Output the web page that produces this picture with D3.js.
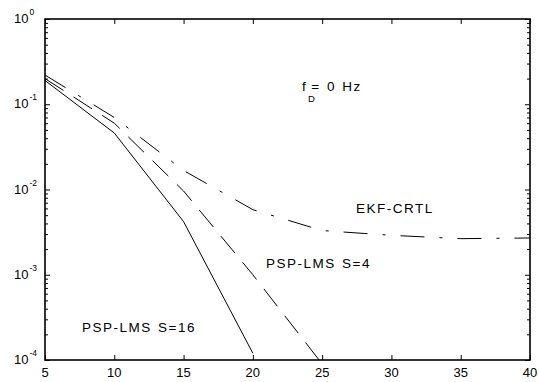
<!DOCTYPE html>
<html>
<head>
<meta charset="utf-8">
<style>
    body { margin: 0; background: #fff; }
    svg { font-family: 'Liberation Sans', Arial, sans-serif; }
    .axis .domain { display: none; }
    .axis .tick line { stroke: #000; stroke-width: 1; }
    .lbl { font-size: 12.5px; fill: #000; }
    .note { font-size: 13.5px; fill: #000; letter-spacing: 1.5px; word-spacing: 1px; }
</style>
</head>
<body>
<svg width="539" height="382"></svg>
<script src="https://d3js.org/d3.v7.min.js"></script>
<script>
// x positions (SNR, dB) and y values (BER)
let xTicks = [5, 10, 15, 20, 25, 30, 35, 40]
let yExps = [0, -1, -2, -3, -4]

let xS16 = [5, 10, 15, 20]
let berS16 = [0.19, 0.046, 0.0042, 0.00012]

let xS4 = [5, 10, 15, 20, 25]
let berS4 = [0.2, 0.06, 0.0096, 0.001, 0.00009]

let xEkf = [5, 10, 15, 20, 25, 30, 35, 40]
let berEkf = [0.22, 0.07, 0.0167, 0.0058, 0.0033, 0.0029, 0.00265, 0.0027]

let svg = d3.select("svg")
let margin = {top: 19, right: 9, bottom: 22, left: 45}
let width = 539, height = 382

let x = d3.scaleLinear()
    .domain([5, 40])
    .range([margin.left, width - margin.right])

let y = d3.scaleLog()
    .domain([1e-4, 1])
    .range([height - margin.bottom, margin.top])

let majorY = yExps.map(e => Math.pow(10, e))
let minorY = []
for (let e = -4; e < 0; e++) {
    for (let m = 2; m <= 9; m++) minorY.push(m * Math.pow(10, e))
}

svg.append("defs").append("clipPath").attr("id", "plot")
    .append("rect")
    .attr("x", margin.left).attr("y", margin.top)
    .attr("width", width - margin.left - margin.right)
    .attr("height", height - margin.top - margin.bottom)

// inward ticks on all four sides
let yb = height - margin.bottom
let xr = width - margin.right
svg.append("g").attr("class", "axis")
    .attr("transform", `translate(0,${yb})`)
    .call(d3.axisBottom(x).tickValues(xTicks).tickSize(-5).tickFormat(""))
svg.append("g").attr("class", "axis")
    .attr("transform", `translate(0,${margin.top})`)
    .call(d3.axisTop(x).tickValues(xTicks).tickSize(-5).tickFormat(""))
svg.append("g").attr("class", "axis")
    .attr("transform", `translate(${margin.left},0)`)
    .call(d3.axisLeft(y).tickValues(majorY).tickSize(-5).tickFormat(""))
svg.append("g").attr("class", "axis")
    .attr("transform", `translate(${margin.left},0)`)
    .call(d3.axisLeft(y).tickValues(minorY).tickSize(-3).tickFormat(""))
svg.append("g").attr("class", "axis")
    .attr("transform", `translate(${xr},0)`)
    .call(d3.axisRight(y).tickValues(majorY).tickSize(-5).tickFormat(""))
svg.append("g").attr("class", "axis")
    .attr("transform", `translate(${xr},0)`)
    .call(d3.axisRight(y).tickValues(minorY).tickSize(-3).tickFormat(""))

// frame
svg.append("rect")
    .attr("x", margin.left).attr("y", margin.top)
    .attr("width", xr - margin.left)
    .attr("height", yb - margin.top)
    .attr("fill", "none")
    .attr("stroke", "#000")
    .attr("stroke-width", 1.6)

// x tick labels
svg.selectAll(".xlab")
    .data(xTicks)
    .join("text")
    .attr("class", "lbl")
    .attr("x", d => x(d))
    .attr("y", yb + 17)
    .attr("text-anchor", "middle")
    .style("font-size", "13px")
    .text(d => d)

// y tick labels 10^e
let ylab = svg.selectAll(".ylab")
    .data(yExps)
    .join("text")
    .attr("class", "lbl")
    .attr("x", 14)
    .attr("y", d => y(Math.pow(10, d)) + 4)
ylab.append("tspan").text("10").style("font-size", "13px")
ylab.append("tspan")
    .attr("dy", -8)
    .attr("dx", 1)
    .style("font-size", "8.5px")
    .text(d => d)

// curves
let line = d3.line()
    .x(d => x(d[0]))
    .y(d => y(d[1]))

let curves = [
    {pts: d3.zip(xS16, berS16), dash: null},
    {pts: d3.zip(xS4, berS4), dash: "22,12"},
    {pts: d3.zip(xEkf, berEkf), dash: "24,15,3,15"}
]

svg.append("g")
    .attr("clip-path", "url(#plot)")
    .selectAll("path")
    .data(curves)
    .join("path")
    .attr("d", d => line(d.pts))
    .attr("fill", "none")
    .attr("stroke", "#000")
    .attr("stroke-width", 1)
    .attr("stroke-dasharray", d => d.dash)

// annotations
let fd = svg.append("text").attr("class", "note")
    .attr("x", 302).attr("y", 91)
fd.append("tspan").text("f")
fd.append("tspan").attr("dx", 4).text("= 0 Hz")
svg.append("text").attr("class", "note")
    .attr("x", 308).attr("y", 102)
    .style("font-size", "9.5px")
    .text("D")
svg.append("text").attr("class", "note")
    .attr("x", 356).attr("y", 213)
    .text("EKF-CRTL")
svg.append("text").attr("class", "note")
    .attr("x", 266).attr("y", 268)
    .text("PSP-LMS S=4")
svg.append("text").attr("class", "note")
    .attr("x", 82).attr("y", 332)
    .text("PSP-LMS S=16")
</script>
</body>
</html>
